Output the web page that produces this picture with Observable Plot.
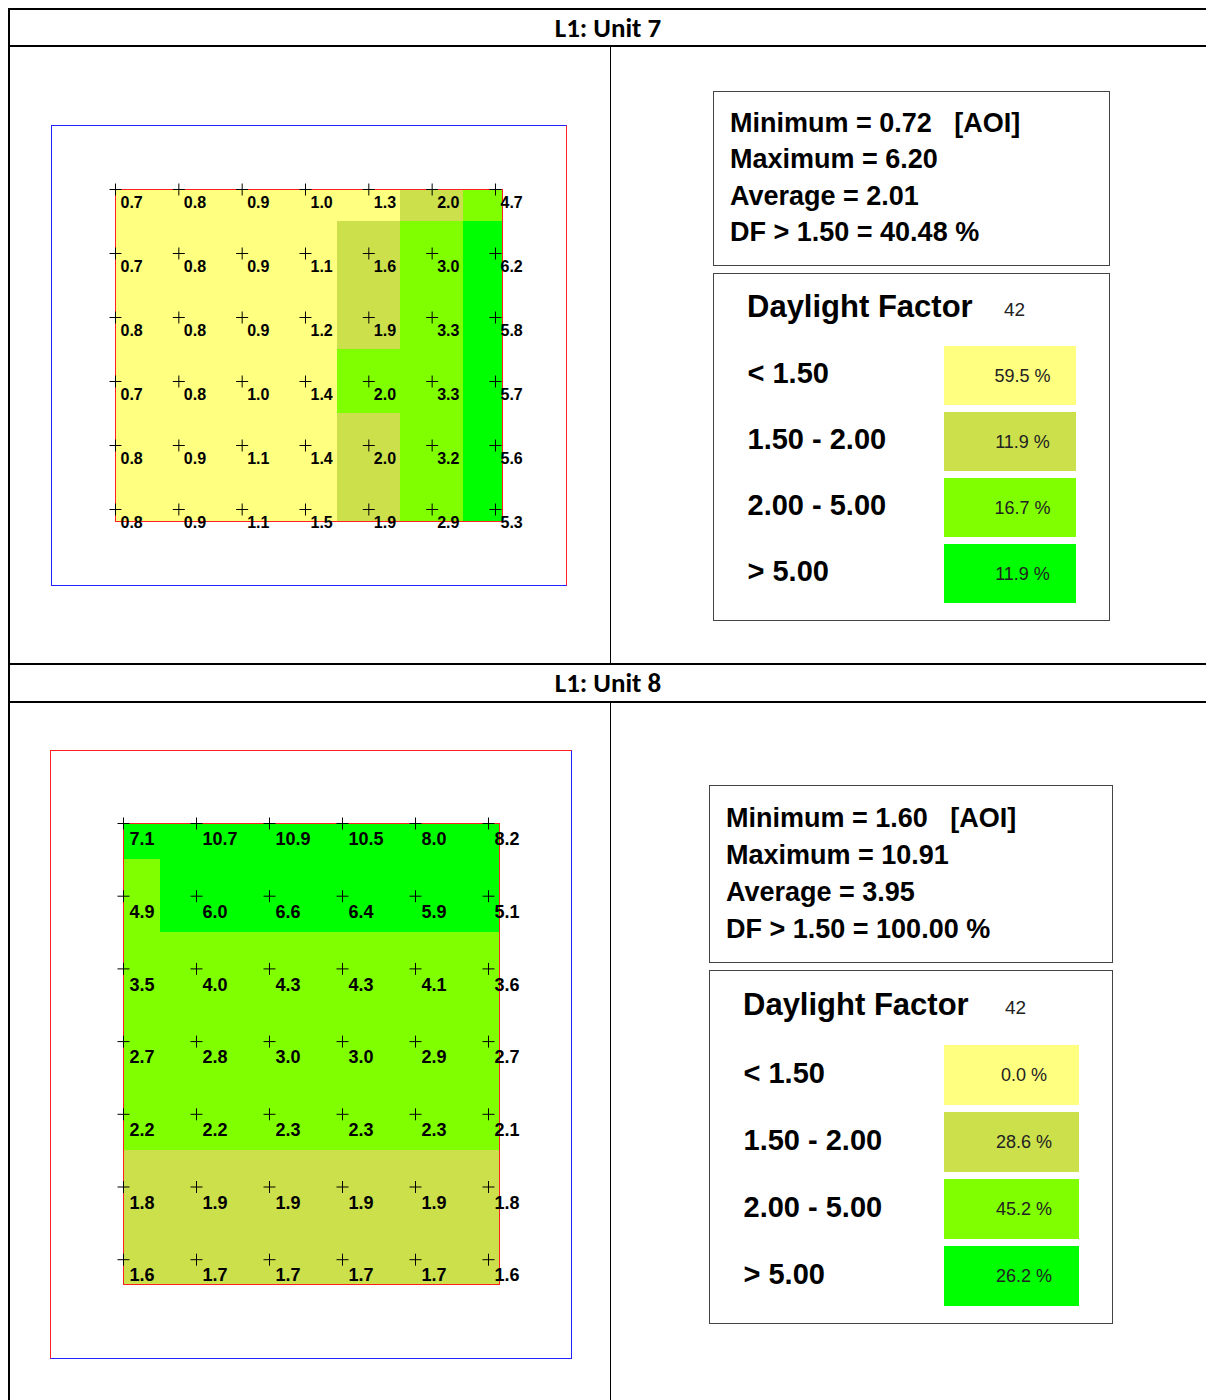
<!DOCTYPE html>
<html><head><meta charset="utf-8">
<script src="https://cdn.jsdelivr.net/npm/d3@7"></script>
<script src="https://cdn.jsdelivr.net/npm/@observablehq/plot@0.6"></script>
<style>
body{margin:0;background:#fff;}
#page{position:relative;width:1206px;height:1400px;overflow:hidden;font-family:"Liberation Sans",Arial,sans-serif;background:#fff;}
.hline{position:absolute;height:2px;background:#000;}
.vline{position:absolute;background:#000;}
.hdr{position:absolute;left:10px;width:1196px;text-align:center;font-family:Carlito,Lato,sans-serif;font-weight:bold;font-size:27px;color:#000;}
.box{position:absolute;border:1px solid #444;box-sizing:border-box;background:#fff;}
.stat{position:absolute;font-weight:bold;font-size:27px;white-space:pre;height:36px;line-height:36px;color:#000;}
.frame{position:absolute;box-sizing:border-box;border:1px solid #2323ff;}
.ovl{position:absolute;}
.ltitle{position:absolute;font-weight:bold;font-size:31px;height:40px;line-height:40px;white-space:pre;color:#000;}
.lcount{position:absolute;font-size:19px;height:24px;line-height:24px;color:#222;}
</style></head>
<body><div id="page"></div>
<script>
// ---------------- data ----------------
const unitTitles = ["L1: Unit 7", "L1: Unit 8"];
const bandLabels = ["< 1.50", "1.50 - 2.00", "2.00 - 5.00", "> 5.00"];
const bandColors = ["#ffff80", "#cbe04b", "#80ff00", "#00ff00"];

const unit7Values = [
  [0.7, 0.8, 0.9, 1.0, 1.3, 2.0, 4.7],
  [0.7, 0.8, 0.9, 1.1, 1.6, 3.0, 6.2],
  [0.8, 0.8, 0.9, 1.2, 1.9, 3.3, 5.8],
  [0.7, 0.8, 1.0, 1.4, 2.0, 3.3, 5.7],
  [0.8, 0.9, 1.1, 1.4, 2.0, 3.2, 5.6],
  [0.8, 0.9, 1.1, 1.5, 1.9, 2.9, 5.3]
];
// band index (into bandLabels) of each grid point, as coloured in the picture
const unit7Bands = [
  [0, 0, 0, 0, 0, 1, 2],
  [0, 0, 0, 0, 1, 2, 3],
  [0, 0, 0, 0, 1, 2, 3],
  [0, 0, 0, 0, 2, 2, 3],
  [0, 0, 0, 0, 1, 2, 3],
  [0, 0, 0, 0, 1, 2, 3]
];
const unit8Values = [
  [7.1, 10.7, 10.9, 10.5, 8.0, 8.2],
  [4.9, 6.0, 6.6, 6.4, 5.9, 5.1],
  [3.5, 4.0, 4.3, 4.3, 4.1, 3.6],
  [2.7, 2.8, 3.0, 3.0, 2.9, 2.7],
  [2.2, 2.2, 2.3, 2.3, 2.3, 2.1],
  [1.8, 1.9, 1.9, 1.9, 1.9, 1.8],
  [1.6, 1.7, 1.7, 1.7, 1.7, 1.6]
];
const unit8Bands = [
  [3, 3, 3, 3, 3, 3],
  [2, 3, 3, 3, 3, 3],
  [2, 2, 2, 2, 2, 2],
  [2, 2, 2, 2, 2, 2],
  [2, 2, 2, 2, 2, 2],
  [1, 1, 1, 1, 1, 1],
  [1, 1, 1, 1, 1, 1]
];
const statNames = ["Minimum", "Maximum", "Average", "DF > 1.50"];
const unit7Stats = [0.72, 6.20, 2.01, 40.48];
const unit8Stats = [1.60, 10.91, 3.95, 100.00];
const unit7Pct = [59.5, 11.9, 16.7, 11.9];
const unit8Pct = [0.0, 28.6, 45.2, 26.2];
const pointCounts = [42, 42];

// ---------------- helpers ----------------
const page = document.getElementById("page");
function el(cls, css, text) {
  const d = document.createElement("div");
  d.className = cls;
  Object.assign(d.style, css);
  if (text != null) d.textContent = text;
  page.appendChild(d);
  return d;
}
const plusSymbol = {
  draw(ctx, size) {
    const s = Math.sqrt(size / Math.PI);
    ctx.moveTo(-s, 0); ctx.lineTo(s, 0);
    ctx.moveTo(0, -s); ctx.lineTo(0, s);
  }
};

function heatmap(values, bands, L) {
  const cells = [];
  values.forEach((row, r) => row.forEach((v, c) => cells.push({r, c, v, band: bandLabels[bands[r][c]]})));
  return Plot.plot({
    width: L.w, height: L.h,
    marginLeft: L.mL, marginTop: L.mT, marginRight: L.mR, marginBottom: L.mB,
    x: {domain: [0, L.xMax], axis: null},
    y: {domain: [0, L.yMax], reverse: true, axis: null},
    color: {type: "ordinal", domain: bandLabels, range: bandColors},
    style: {fontFamily: "Liberation Sans, Arial, sans-serif", background: "transparent", overflow: "visible"},
    marks: [
      Plot.rect(cells, {
        x1: d => Math.max(0, d.c - 0.5), x2: d => Math.min(L.xMax, d.c + 0.5),
        y1: d => Math.max(0, d.r - 0.5), y2: d => Math.min(L.yMax, d.r + 0.5),
        fill: "band", shapeRendering: "crispEdges"
      }),
      Plot.frame({stroke: "#ff2020", strokeWidth: 1}),
      Plot.dot(cells, {x: "c", y: "r", symbol: plusSymbol, r: L.cross, stroke: "#000", strokeWidth: 1, fill: "none"}),
      Plot.text(cells, {x: "c", y: "r", text: d => d.v.toFixed(1), dx: L.dx, dy: L.dy, textAnchor: "start",
        fontWeight: "bold", fontSize: L.fs, fill: "#000"})
    ]
  });
}

function legend(pcts, L) {
  const rows = bandLabels.map((label, i) => ({label, pct: pcts[i]}));
  const p = (L.step - L.sh) / L.step;
  const y0 = L.sy - (L.step - L.sh) / 2;
  return Plot.plot({
    width: L.w, height: L.h, marginLeft: L.labelX, marginTop: 0, marginRight: 0, marginBottom: 0,
    x: {type: "band", domain: ["swatch"], range: [L.sx0, L.sx1], paddingInner: 0, paddingOuter: 0, axis: null},
    y: {type: "band", domain: bandLabels, range: [y0, y0 + 4 * L.step], paddingInner: p, paddingOuter: p / 2, axis: null},
    color: {type: "ordinal", domain: bandLabels, range: bandColors},
    style: {fontFamily: "Liberation Sans, Arial, sans-serif", background: "transparent", overflow: "visible"},
    marks: [
      Plot.cell(rows, {x: () => "swatch", y: "label", fill: "label", inset: 0}),
      Plot.text(rows, {x: () => "swatch", y: "label", text: d => d.pct.toFixed(1) + " %", dx: 12, fontSize: 18, fill: "#222"}),
      Plot.text(rows, {y: "label", text: "label", frameAnchor: "left", textAnchor: "start", dy: -2,
        fontWeight: "bold", fontSize: 29, fill: "#000"})
    ]
  });
}

// ---------------- table frame ----------------
el("hline", {left: "8px", top: "8px", width: "1198px"});
el("hline", {left: "8px", top: "45px", width: "1198px"});
el("hline", {left: "8px", top: "663px", width: "1198px"});
el("hline", {left: "8px", top: "701px", width: "1198px"});
el("vline", {left: "8px", top: "8px", width: "2px", height: "1392px"});
el("vline", {left: "610px", top: "47px", width: "1px", height: "616px"});
el("vline", {left: "610px", top: "703px", width: "1px", height: "697px"});
el("hdr", {top: "10px", height: "35px", lineHeight: "35px"}, unitTitles[0]);
el("hdr", {top: "665px", height: "36px", lineHeight: "36px"}, unitTitles[1]);

// ---------------- heatmaps ----------------
el("frame", {left: "51px", top: "125px", width: "516px", height: "461px", borderRightColor: "#ff2020"});
const h7 = heatmap(unit7Values, unit7Bands, {
  w: 516, h: 461, mL: 64, mT: 64, mR: 65, mB: 65,
  xMax: 387 / 63.33, yMax: 332 / 64, cross: 6, dx: 5, dy: 13, fs: 16
});
el("ovl", {left: "51px", top: "125px"}).appendChild(h7);

el("frame", {left: "50px", top: "750px", width: "522px", height: "609px", borderTopColor: "#ff2020", borderLeftColor: "#ff2020"});
const h8 = heatmap(unit8Values, unit8Bands, {
  w: 522, h: 609, mL: 73, mT: 73, mR: 73, mB: 75,
  xMax: 376 / 73, yMax: 461 / 72.7, cross: 6, dx: 6, dy: 16, fs: 18
});
el("ovl", {left: "50px", top: "750px"}).appendChild(h8);

// ---------------- stats boxes ----------------
function statsBox(vals, B) {
  const box = el("box", {left: B.x + "px", top: B.y + "px", width: B.w + "px", height: B.h + "px"});
  statNames.forEach((n, i) => {
    let t = n + " = " + vals[i].toFixed(2);
    if (i === 0) t += "   [AOI]";
    if (i === 3) t += " %";
    const d = document.createElement("div");
    d.className = "stat";
    d.style.left = (B.tx - 1) + "px";
    d.style.top = (B.cy[i] - 18 - 1) + "px";
    d.textContent = t;
    box.appendChild(d);
  });
}
statsBox(unit7Stats, {x: 713, y: 91, w: 397, h: 175, tx: 17, cy: [32, 68, 105, 141]});
statsBox(unit8Stats, {x: 709, y: 785, w: 404, h: 178, tx: 17, cy: [33, 70, 107, 144]});

// ---------------- legend boxes ----------------
function legendBox(pcts, count, B) {
  el("box", {left: B.x + "px", top: B.y + "px", width: B.w + "px", height: B.h + "px"});
  el("ltitle", {left: (B.x + B.L.labelX) + "px", top: (B.y + B.tcy - 20) + "px"}, "Daylight Factor");
  el("lcount", {left: (B.x + B.cx) + "px", top: (B.y + B.tcy + 3 - 12) + "px"}, String(count));
  const svg = legend(pcts, B.L);
  el("ovl", {left: B.x + "px", top: B.y + "px"}).appendChild(svg);
}
legendBox(unit7Pct, pointCounts[0], {
  x: 713, y: 273, w: 397, h: 348, tcy: 34, cx: 291,
  L: {w: 397, h: 348, labelX: 34, sx0: 231, sx1: 363, sy: 73, step: 66, sh: 59}
});
legendBox(unit8Pct, pointCounts[1], {
  x: 709, y: 970, w: 404, h: 354, tcy: 35, cx: 296,
  L: {w: 404, h: 354, labelX: 34, sx0: 235, sx1: 370, sy: 74, step: 67.3, sh: 60}
});
</script>
</body></html>
